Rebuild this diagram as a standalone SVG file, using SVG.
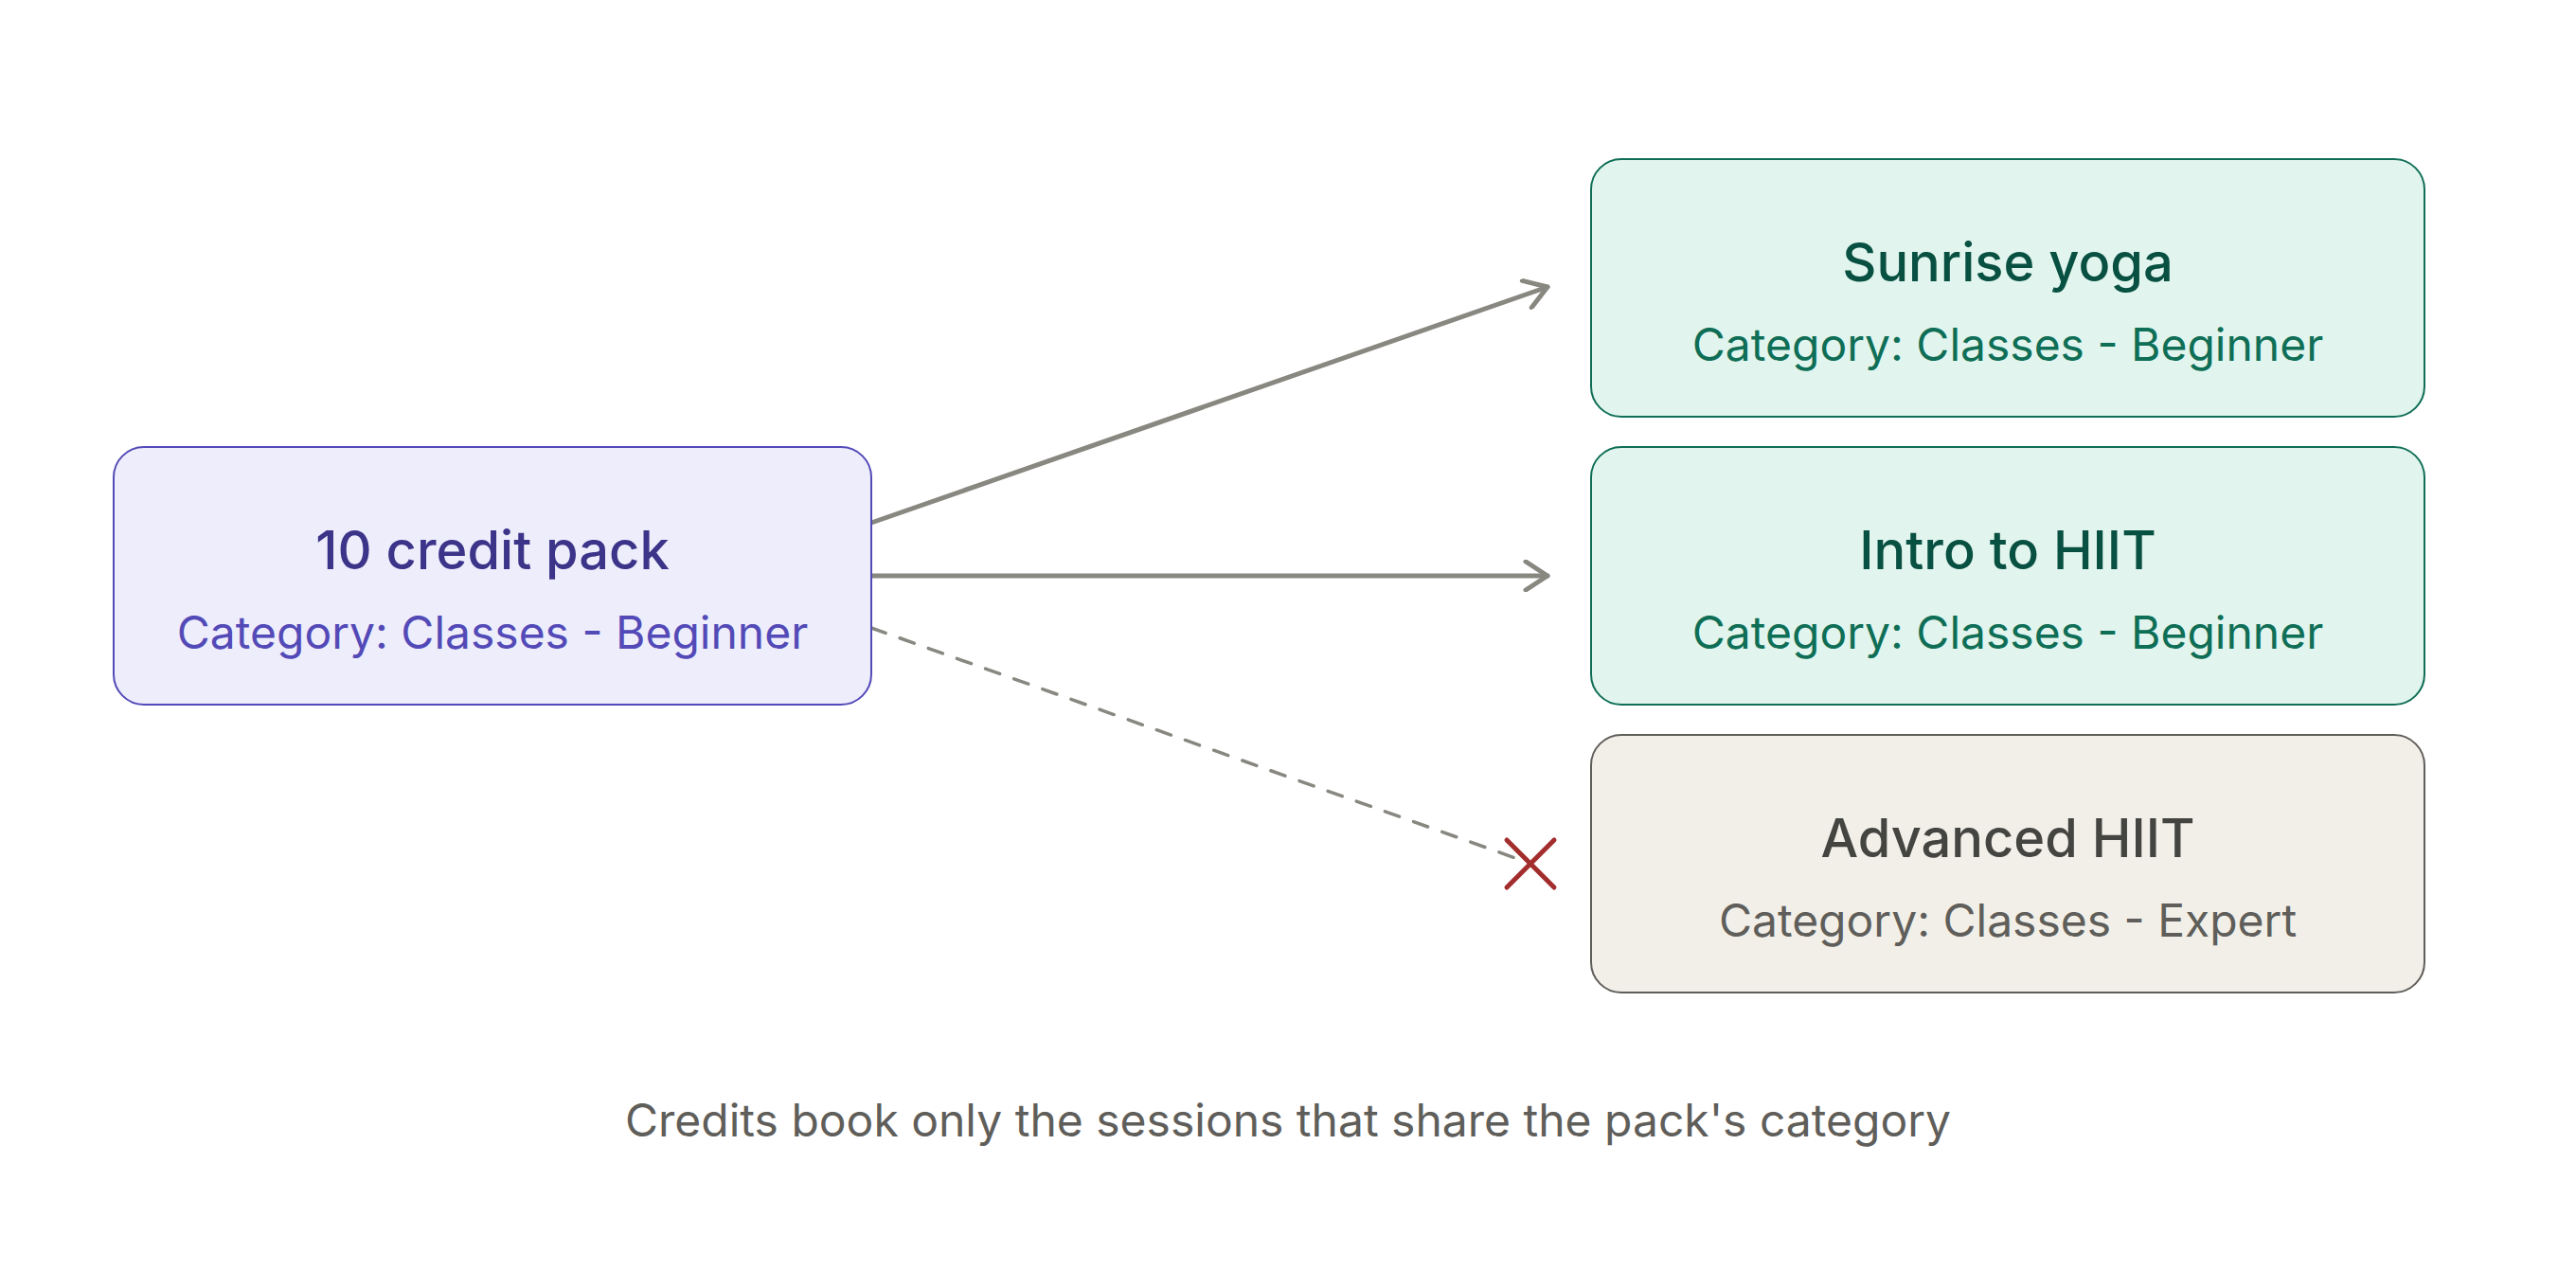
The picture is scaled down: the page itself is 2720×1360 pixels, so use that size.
<svg xmlns="http://www.w3.org/2000/svg" width="2720" height="1360" viewBox="0 0 2720 1360">
<style>
.t{font-family:Inter,"Noto Sans",sans-serif;text-anchor:middle}
.h{font-size:56px;font-weight:500}
.s{font-size:48px;font-weight:400}
.conn{fill:none;stroke:#888780;stroke-linecap:round;stroke-linejoin:round}
</style>
<defs>
<marker id="arr" viewBox="0 0 30 34" refX="27" refY="17" markerWidth="30" markerHeight="34" markerUnits="userSpaceOnUse" orient="auto">
<path d="M4 2 L27 17 L4 32" fill="none" stroke="#888780" stroke-width="5" stroke-linecap="round" stroke-linejoin="round"/>
</marker>
</defs>
<rect width="2720" height="1360" fill="#ffffff"/>
<g id="connectors">
<path class="conn" d="M920 552 L1634 303" stroke-width="5" marker-end="url(#arr)"/>
<path class="conn" d="M920 608 L1634 608" stroke-width="5" marker-end="url(#arr)"/>
<path class="conn" d="M920 663 L1600 906" stroke-width="3.5" stroke-dasharray="16 16" stroke-linecap="butt"/>
<path d="M1591 887 L1641 937 M1641 887 L1591 937" fill="none" stroke="#A32D2D" stroke-width="5" stroke-linecap="round"/>
</g>
<g id="pack">
<rect x="120" y="472" width="800" height="272" rx="32" fill="#EEEDFC" stroke="#534AB7" stroke-width="2"/>
<text class="t h" x="520" y="601" fill="#3C3489">10 credit pack</text>
<text class="t s" x="520" y="685" fill="#534AB7">Category: Classes - Beginner</text>
</g>
<g id="sunrise">
<rect x="1680" y="168" width="880" height="272" rx="32" fill="#E1F5EE" stroke="#0F6E56" stroke-width="2"/>
<text class="t h" x="2120" y="297" fill="#085041">Sunrise yoga</text>
<text class="t s" x="2120" y="381" fill="#0F6E56">Category: Classes - Beginner</text>
</g>
<g id="intro">
<rect x="1680" y="472" width="880" height="272" rx="32" fill="#E1F5EE" stroke="#0F6E56" stroke-width="2"/>
<text class="t h" x="2120" y="601" fill="#085041">Intro to HIIT</text>
<text class="t s" x="2120" y="685" fill="#0F6E56">Category: Classes - Beginner</text>
</g>
<g id="advanced">
<rect x="1680" y="776" width="880" height="272" rx="32" fill="#F1EFE8" stroke="#5F5E5A" stroke-width="2"/>
<text class="t h" x="2120" y="905" fill="#444441">Advanced HIIT</text>
<text class="t s" x="2120" y="989" fill="#5F5E5A">Category: Classes - Expert</text>
</g>
<text class="t" x="1360" y="1200" font-size="48" fill="#5F5E5A">Credits book only the sessions that share the pack's category</text>
</svg>
